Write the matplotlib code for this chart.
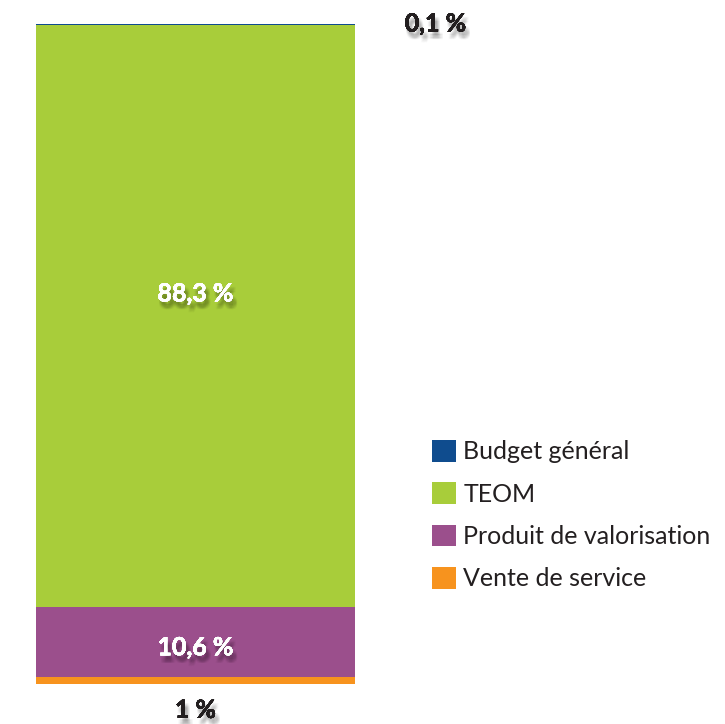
import matplotlib
matplotlib.use("Agg")
import matplotlib.pyplot as plt
import matplotlib.patheffects as pe
from matplotlib.patches import Patch

# Shares of revenue, stacked from bottom to top
categories = ["Vente de service", "Produit de valorisation", "TEOM", "Budget général"]
values = [1.0, 10.6, 88.3, 0.1]
labels = ["1 %", "10,6 %", "88,3 %", "0,1 %"]
colors = ["#F7931E", "#9B4F8C", "#A8CD3A", "#0F4C8E"]
legend_order = ["Budget général", "TEOM", "Produit de valorisation", "Vente de service"]

W, H = 725, 724
fig = plt.figure(figsize=(W / 100, H / 100), dpi=100)
ax = fig.add_axes([36 / W, (H - 684) / H, 319 / W, 660 / H])

bottom = 0.0
for cat, val, col in zip(categories, values, colors):
    ax.bar(0, val, width=1.0, bottom=bottom, color=col, edgecolor="none", label=cat)
    bottom += val

ax.set_xlim(-0.5, 0.5)
ax.set_ylim(0, sum(values))
ax.axis("off")

# soft drop shadow below the text, built from many faint offset copies
shadow = []
for dx in (0.5, 1.5, 2.5, 3.5):
    for dy in (-2.5, -3.5, -4.5, -5.5):
        shadow.append(pe.withSimplePatchShadow(offset=(dx, dy), shadow_rgbFace="black",
                                               alpha=0.03))
shadow.append(pe.Normal())

font = "Lato"
lab_kw = dict(ha="center", va="center", fontsize=18, fontweight="bold", family=font,
              path_effects=shadow)
ax.text(0, 59.1, labels[2], color="white", **lab_kw)
ax.text(0, 5.5, labels[1], color="white", **lab_kw)
ax.annotate(labels[0], xy=(0, 0), xytext=(0, -19), textcoords="offset points",
            color="#231F20", **lab_kw)
ax.annotate(labels[3], xy=(0.5, 100), xytext=(58, 0), textcoords="offset points",
            color="#231F20", **lab_kw)

handles = [Patch(facecolor=colors[categories.index(c)], edgecolor="none") for c in legend_order]
fig.legend(handles, legend_order, loc="upper left", bbox_to_anchor=(432 / W, 1 - 440 / H),
           frameon=False, prop={"family": font, "size": 18}, handlelength=0.95,
           handleheight=0.95, handletextpad=0.3, labelspacing=0.76, borderpad=0,
           borderaxespad=0, labelcolor="#231F20")

fig.savefig("out.png", dpi=100)
